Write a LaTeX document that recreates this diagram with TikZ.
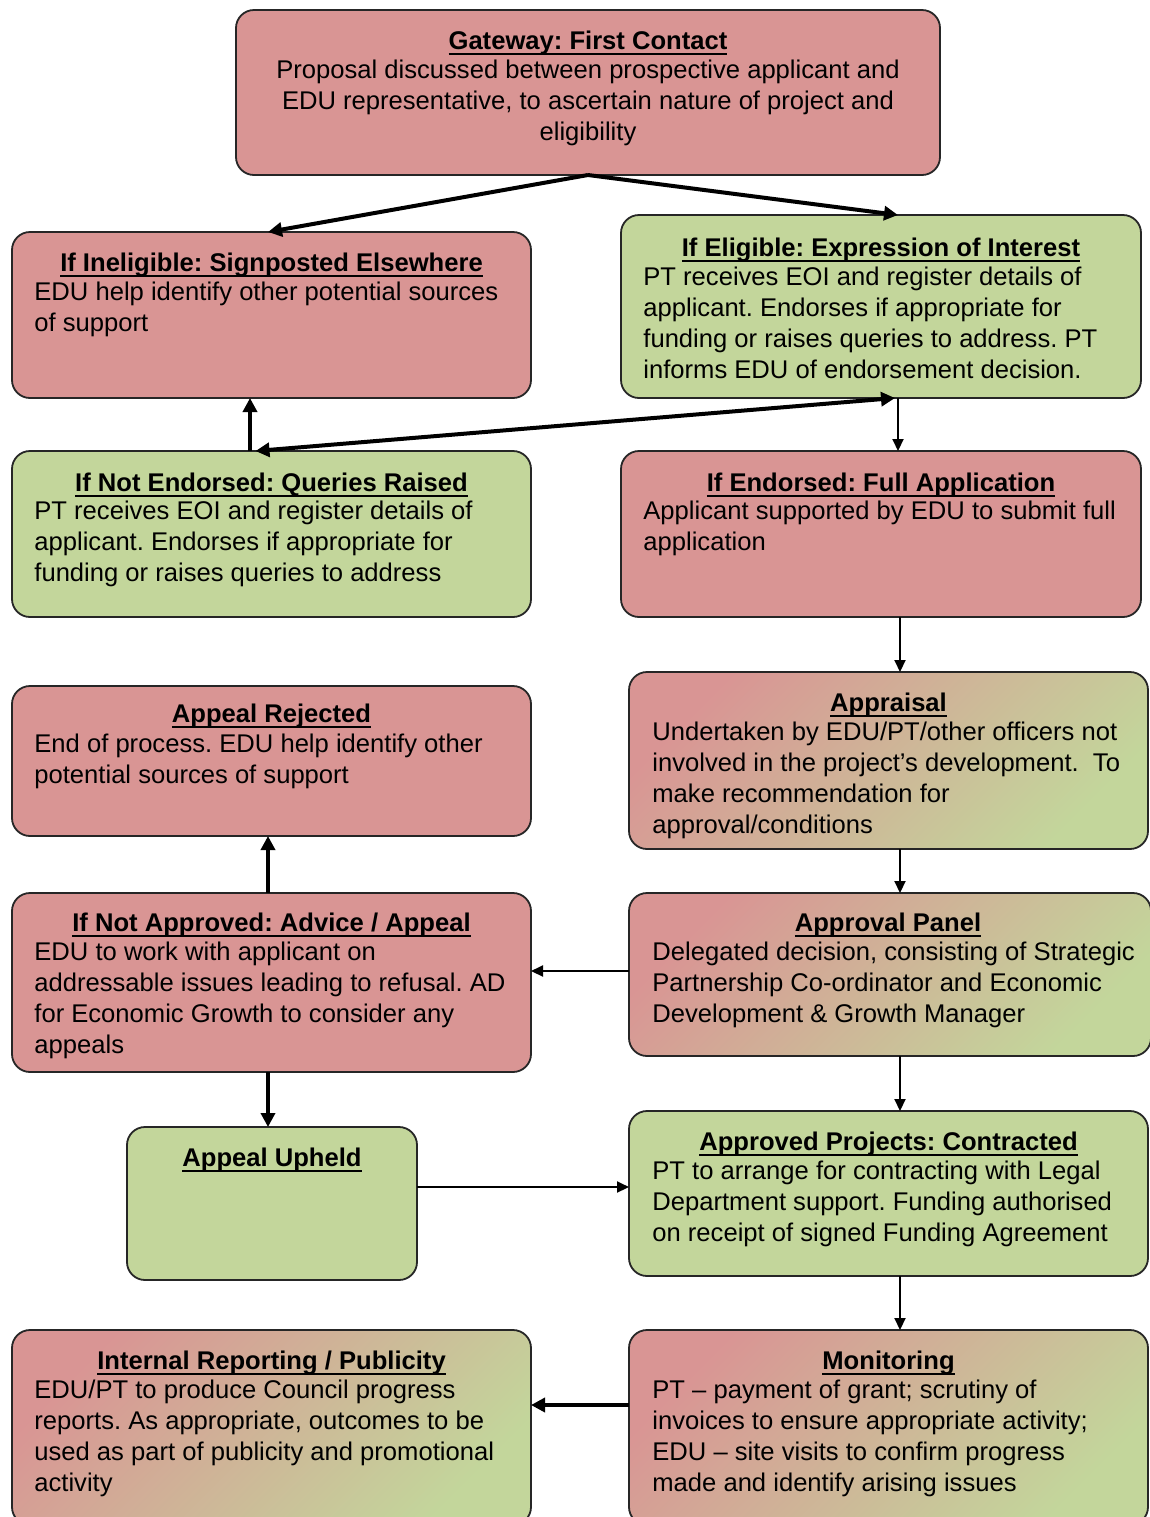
\documentclass[tikz,border=0pt]{standalone}
\usepackage{fontspec}
\setmainfont{Liberation Sans}
\usetikzlibrary{arrows.meta,calc}
\definecolor{pinkc}{HTML}{D99594}
\definecolor{greenc}{HTML}{C3D69B}
\newcommand\myul[1]{\setbox0\hbox{#1}\rlap{\rule[-2.6pt]{\wd0}{1pt}}\box0}
\frenchspacing
\begin{document}
\begin{tikzpicture}[x=0.5pt,y=-0.5pt,
  box/.style={draw=black!85, line width=0.9pt, rounded corners=9pt, inner sep=0pt, outer sep=0pt},
  pinkbox/.style={box, fill=pinkc},
  greenbox/.style={box, fill=greenc},
  gradbox/.style={box, top color=pinkc, bottom color=greenc, shading angle=45},
  ttl/.style={anchor=north, inner sep=0pt, font=\fontsize{12.8pt}{15.5pt}\selectfont\bfseries\frenchspacing, execute at begin node=\rule{0pt}{10pt}},
  bdy/.style={anchor=north west, inner sep=0pt, align=left, font=\fontsize{12.8pt}{15.5pt}\selectfont\frenchspacing, execute at begin node=\rule{0pt}{10pt}},
  bdyc/.style={bdy, anchor=north, align=center},
  thk/.style={line width=2pt, -{Triangle[length=7pt,width=7pt]}},
  thkboth/.style={line width=2pt, {Triangle[length=7pt,width=7pt]}-{Triangle[length=7pt,width=7pt]}},
  thn/.style={line width=1pt, -{Triangle[length=6pt,width=5.5pt]}}
]
\clip (0,0) rectangle (1150,1517);
\fill[white] (0,0) rectangle (1150,1517);

% boxes
\node[pinkbox, minimum width=352pt, minimum height=82.5pt] (gw) at (588,92.5) {};
\node[pinkbox, minimum width=259.5pt, minimum height=83pt] (inel) at (271.5,315) {};
\node[greenbox, minimum width=260pt, minimum height=91.5pt] (elig) at (881,306.5) {};
\node[greenbox, minimum width=259.5pt, minimum height=83pt] (notend) at (271.5,534) {};
\node[pinkbox, minimum width=260pt, minimum height=83pt] (endo) at (881,534) {};
\node[pinkbox, minimum width=259.5pt, minimum height=75pt] (rej) at (271.5,761) {};
\node[gradbox, minimum width=259.5pt, minimum height=88.5pt] (appr) at (888.5,760.5) {};
\node[pinkbox, minimum width=259.5pt, minimum height=89.5pt] (notapp) at (271.5,982.5) {};
\node[gradbox, minimum width=261pt, minimum height=81.5pt] (panel) at (890,974.5) {};
\node[greenbox, minimum width=145pt, minimum height=76.5pt] (upheld) at (272,1203.5) {};
\node[greenbox, minimum width=259.5pt, minimum height=82.5pt] (contr) at (888.5,1193.5) {};
\node[gradbox, minimum width=259.5pt, minimum height=97.5pt] (intrep) at (271.5,1427.5) {};
\node[gradbox, minimum width=259.5pt, minimum height=97.5pt] (mon) at (888.5,1427.5) {};

% texts
\node[ttl] (gw-t) at ([yshift=-9.5pt]gw.north) {\myul{Gateway: First Contact}};
\node[bdyc] (gw-b) at ([yshift=-25pt]gw.north) {Proposal discussed between prospective applicant and\\EDU representative, to ascertain nature of project and\\eligibility};

\node[ttl] (inel-t) at ([yshift=-9.5pt]inel.north) {\myul{If Ineligible: Signposted Elsewhere}};
\node[bdy] (inel-b) at ([xshift=11pt,yshift=-25pt]inel.north west) {EDU help identify other potential sources\\of support};

\node[ttl] (elig-t) at ([yshift=-10.5pt]elig.north) {\myul{If Eligible: Expression of Interest}};
\node[bdy] (elig-b) at ([xshift=11pt,yshift=-26pt]elig.north west) {PT receives EOI and register details of\\applicant. Endorses if appropriate for\\funding or raises queries to address. PT\\informs EDU of endorsement decision.};

\node[ttl] (notend-t) at ([yshift=-10pt]notend.north) {\myul{If Not Endorsed: Queries Raised}};
\node[bdy] (notend-b) at ([xshift=11pt,yshift=-25pt]notend.north west) {PT receives EOI and register details of\\applicant. Endorses if appropriate for\\funding or raises queries to address};

\node[ttl] (endo-t) at ([yshift=-10pt]endo.north) {\myul{If Endorsed: Full Application}};
\node[bdy] (endo-b) at ([xshift=11pt,yshift=-25pt]endo.north west) {Applicant supported by EDU to submit full\\application};

\node[ttl] (rej-t) at ([yshift=-8pt]rej.north) {\myul{Appeal Rejected}};
\node[bdy] (rej-b) at ([xshift=11pt,yshift=-24pt]rej.north west) {End of process. EDU help identify other\\potential sources of support};

\node[ttl] (appr-t) at ([yshift=-9.5pt]appr.north) {\myul{Appraisal}};
\node[bdy] (appr-b) at ([xshift=11.5pt,yshift=-25pt]appr.north west) {Undertaken by EDU/PT/other officers not\\involved in the project’s development.~ To\\make recommendation for\\approval/conditions};

\node[ttl] (notapp-t) at ([yshift=-9pt]notapp.north) {\myul{If Not Approved: Advice / Appeal}};
\node[bdy] (notapp-b) at ([xshift=11pt,yshift=-24.5pt]notapp.north west) {EDU to work with applicant on\\addressable issues leading to refusal. AD\\for Economic Growth to consider any\\appeals};

\node[ttl] (panel-t) at ([xshift=-1pt,yshift=-9pt]panel.north) {\myul{Approval Panel}};
\node[bdy] (panel-b) at ([xshift=11.5pt,yshift=-24.5pt]panel.north west) {Delegated decision, consisting of Strategic\\Partnership Co-ordinator and Economic\\Development \& Growth Manager};

\node[ttl] (upheld-t) at ([yshift=-9.5pt]upheld.north) {\myul{Appeal Upheld}};

\node[ttl] (contr-t) at ([yshift=-9.5pt]contr.north) {\myul{Approved Projects: Contracted}};
\node[bdy] (contr-b) at ([xshift=11.5pt,yshift=-25pt]contr.north west) {PT to arrange for contracting with Legal\\Department support. Funding authorised\\on receipt of signed Funding Agreement};

\node[ttl] (intrep-t) at ([yshift=-9.5pt]intrep.north) {\myul{Internal Reporting / Publicity}};
\node[bdy] (intrep-b) at ([xshift=11pt,yshift=-25pt]intrep.north west) {EDU/PT to produce Council progress\\reports. As appropriate, outcomes to be\\used as part of publicity and promotional\\activity};

\node[ttl] (mon-t) at ([yshift=-9.5pt]mon.north) {\myul{Monitoring}};
\node[bdy] (mon-b) at ([xshift=11.5pt,yshift=-25pt]mon.north west) {PT – payment of grant; scrutiny of\\invoices to ensure appropriate activity;\\EDU – site visits to confirm progress\\made and identify arising issues};

% connectors
\coordinate (spine) at (900,0);
\coordinate (lspine) at (268,0);
\draw[thk] (gw.south) -- ([xshift=-1.75pt]inel.north);
\draw[thk] (gw.south) -- ([xshift=8.5pt]elig.north);
\draw[thkboth] ([xshift=7pt]elig.south) -- ([xshift=-8pt]notend.north);
\draw[thk] ([xshift=-10.75pt]notend.north) -- ([xshift=-10.75pt]inel.south);
\draw[thn] ([xshift=8.5pt]elig.south) -- ([xshift=8.5pt]endo.north);
\draw[thn] (endo.south -| spine) -- (appr.north -| spine);
\draw[thn] (appr.south -| spine) -- (panel.north -| spine);
\draw[thn] ([yshift=1.75pt]panel.west) -- ([yshift=1.75pt]panel.west -| notapp.east);
\draw[thk] (notapp.north -| lspine) -- (rej.south -| lspine);
\draw[thk] (notapp.south -| lspine) -- (upheld.north -| lspine);
\draw[thn] ([yshift=8.25pt]upheld.east) -- ([yshift=8.25pt]upheld.east -| contr.west);
\draw[thn] (panel.south -| spine) -- (contr.north -| spine);
\draw[thn] (contr.south -| spine) -- (mon.north -| spine);
\draw[thk] ([yshift=11.25pt]mon.west) -- ([yshift=11.25pt]mon.west -| intrep.east);
\end{tikzpicture}
\end{document}
